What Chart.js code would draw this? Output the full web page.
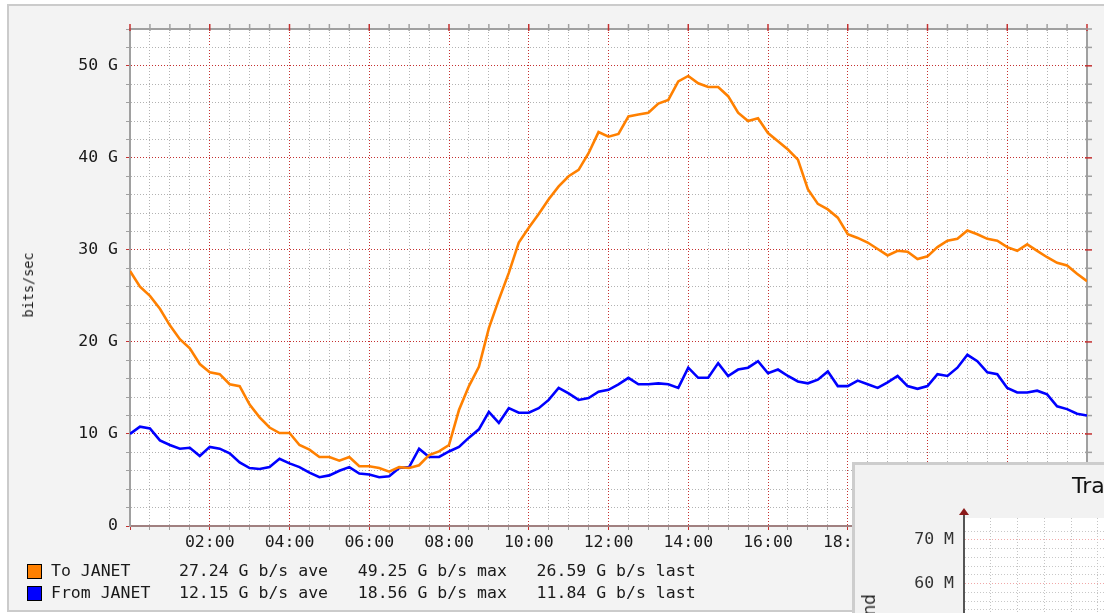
<!DOCTYPE html>
<html>
<head>
<meta charset="utf-8">
<title>JANET traffic</title>
<script src="https://cdn.jsdelivr.net/npm/chart.js@4.4.0/dist/chart.umd.min.js"></script>
<style>
  html, body { margin: 0; padding: 0; overflow: hidden; }
  body { width: 1104px; height: 613px; position: relative; background: #fff;
         font-family: "DejaVu Sans Mono", monospace; color: #1a1a1a; }
  #frame { position: absolute; left: 7px; top: 4px; width: 1200px; height: 608px;
           box-sizing: border-box; border: 2.5px solid #cbcbcb; background: #f3f3f3; }
  #main { position: absolute; left: 0; top: 0; }
  #ytitle { position: absolute; left: 28px; top: 285px; font-size: 13.5px; white-space: nowrap;
            transform: translate(-50%, -50%) rotate(-90deg); }
  .row { position: absolute; left: 0; height: 20px; width: 800px; }
  .swatch { position: absolute; left: 27px; width: 13px; height: 13px; border: 1px solid #000; }
  .name, .stats { position: absolute; font-size: 16.5px; line-height: 20px; white-space: pre; }
  .name { left: 51px; }
  .stats { left: 179px; }
  #win2 { position: absolute; left: 852px; top: 462px; width: 400px; height: 300px; box-sizing: border-box;
          border-left: 3px solid #cdcdcd; border-top: 3px solid #cdcdcd; background: #f2f2f2; }
  #inner { position: absolute; left: 856px; top: 466px; }
  #title2 { position: absolute; left: 1072px; top: 473px; font-family: "DejaVu Sans", sans-serif;
            font-size: 22px; line-height: 26px; white-space: nowrap; color: #111; }
  #ytitle2 { position: absolute; left: 861px; top: 594px; font-family: "DejaVu Sans", sans-serif;
             font-size: 17px; line-height: 17px; white-space: nowrap; color: #222;
             transform-origin: left top; transform: rotate(-90deg) translateX(-100%); }
</style>
</head>
<body>
<div id="frame"></div>
<canvas id="main" width="1104" height="613"></canvas>
<div id="ytitle">bits/sec</div>
<div id="legend"></div>
<div id="win2"></div>
<canvas id="inner" width="440" height="400"></canvas>
<div id="title2">Traffic</div>
<div id="ytitle2">Bits per second</div>
<script>
// samples every 15 minutes from 00:00 to 24:00, in Gbit/s
const SAMPLE_MINUTES = 15;

const toJanet = [
  27.7, 26.0, 25.0, 23.6, 21.8, 20.3, 19.3, 17.6, 16.7, 16.5, 15.4, 15.2,
  13.2, 11.8, 10.7, 10.1, 10.1, 8.8, 8.3, 7.5, 7.5, 7.1, 7.5, 6.5,
  6.5, 6.3, 5.9, 6.4, 6.3, 6.6, 7.7, 8.1, 8.8, 12.6, 15.2, 17.3,
  21.5, 24.6, 27.5, 30.8, 32.4, 33.9, 35.5, 36.9, 38.0, 38.7, 40.5, 42.8,
  42.3, 42.6, 44.5, 44.7, 44.9, 45.9, 46.3, 48.3, 48.9, 48.1, 47.7, 47.7,
  46.7, 44.9, 44.0, 44.3, 42.7, 41.8, 40.9, 39.8, 36.6, 35.0, 34.4, 33.5,
  31.7, 31.3, 30.8, 30.1, 29.4, 29.9, 29.8, 29.0, 29.3, 30.3, 31.0, 31.2,
  32.1, 31.7, 31.2, 31.0, 30.3, 29.9, 30.6, 29.9, 29.2, 28.6, 28.3, 27.4,
  26.6
];

const fromJanet = [
  10.0, 10.8, 10.6, 9.3, 8.8, 8.4, 8.5, 7.6, 8.6, 8.4, 7.9, 6.9,
  6.3, 6.2, 6.4, 7.3, 6.8, 6.4, 5.8, 5.3, 5.5, 6.0, 6.4, 5.7,
  5.6, 5.3, 5.4, 6.3, 6.4, 8.4, 7.5, 7.5, 8.1, 8.6, 9.6, 10.5,
  12.4, 11.2, 12.8, 12.3, 12.3, 12.8, 13.7, 15.0, 14.4, 13.7, 13.9, 14.6,
  14.8, 15.4, 16.1, 15.4, 15.4, 15.5, 15.4, 15.0, 17.2, 16.1, 16.1, 17.7,
  16.3, 17.0, 17.2, 17.9, 16.6, 17.0, 16.3, 15.7, 15.5, 15.9, 16.8, 15.2,
  15.2, 15.8, 15.4, 15.0, 15.6, 16.3, 15.2, 14.9, 15.2, 16.5, 16.3, 17.2,
  18.6, 17.9, 16.7, 16.5, 15.0, 14.5, 14.5, 14.7, 14.3, 13.0, 12.7, 12.2,
  12.0
];

const seriesNames = ["To JANET", "From JANET"];
const seriesColors = ["#ff8000", "#0000ff"];
const seriesStats = [
  "27.24 G b/s ave   49.25 G b/s max   26.59 G b/s last",
  "12.15 G b/s ave   18.56 G b/s max   11.84 G b/s last"
];

const xTickHours = [2, 4, 6, 8, 10, 12, 14, 16, 18, 20, 22];
const xTickLabels = ["02:00", "04:00", "06:00", "08:00", "10:00", "12:00",
                     "14:00", "16:00", "18:00", "20:00", "22:00"];
const yTickValues = [0, 10, 20, 30, 40, 50];
const yTickLabels = ["0", "10 G", "20 G", "30 G", "40 G", "50 G"];

const innerYTickValues = [0, 10, 20, 30, 40, 50, 60, 70];
const innerYTickLabels = ["0", "10 M", "20 M", "30 M", "40 M", "50 M", "60 M", "70 M"];

const MAJOR = "#c43030";
const MINOR = "#b2b2b2";

// legend rows
const legendEl = document.getElementById("legend");
seriesNames.forEach(function (name, i) {
  const top = i === 0 ? 561 : 583;
  legendEl.innerHTML += `
    <div class="row" style="top:${top}px">
      <div class="swatch" style="top:3px;background:${seriesColors[i]}"></div>
      <div class="name">${name}</div>
      <div class="stats">${seriesStats[i]}</div>
    </div>`;
});

function toPoints(values) {
  return values.map(function (v, i) {
    return { x: (i * SAMPLE_MINUTES) / 60, y: v };
  });
}

const plotBg = {
  id: "plotBg",
  beforeDraw(chart) {
    const a = chart.chartArea;
    const c = chart.ctx;
    c.save();
    c.fillStyle = "#fff";
    c.fillRect(a.left, a.top, a.right - a.left, a.bottom - a.top);
    c.restore();
  }
};

const frame = {
  id: "frame",
  beforeDatasetsDraw(chart) {
    const a = chart.chartArea;
    const c = chart.ctx;
    const xs = chart.scales.x;
    const ys = chart.scales.y;
    c.save();
    c.strokeStyle = "#a0a0a0";
    c.lineWidth = 2;
    c.beginPath();
    c.moveTo(a.left, a.top);
    c.lineTo(a.right, a.top);
    c.lineTo(a.right, a.bottom);
    c.stroke();
    c.lineWidth = 1.5;
    xs.ticks.forEach(function (t) {
      const px = xs.getPixelForValue(t.value);
      c.strokeStyle = t.value % 2 === 0 ? MAJOR : "#a0a0a0";
      c.beginPath();
      c.moveTo(px, a.top - 5);
      c.lineTo(px, a.top + 2);
      c.stroke();
    });
    ys.ticks.forEach(function (t) {
      const py = ys.getPixelForValue(t.value);
      c.strokeStyle = t.value % 10 === 0 ? MAJOR : "#a0a0a0";
      c.beginPath();
      c.moveTo(a.right - 2, py);
      c.lineTo(a.right + 5, py);
      c.stroke();
    });
    c.restore();
  }
};

const tickFont = { family: "DejaVu Sans Mono", size: 16.5 };

new Chart(document.getElementById("main"), {
  type: "line",
  data: {
    datasets: [
      { label: seriesNames[0], data: toPoints(toJanet), borderColor: seriesColors[0],
        borderWidth: 2.6, pointRadius: 0, tension: 0 },
      { label: seriesNames[1], data: toPoints(fromJanet), borderColor: seriesColors[1],
        borderWidth: 2.6, pointRadius: 0, tension: 0 }
    ]
  },
  options: {
    responsive: false,
    animation: false,
    layout: { padding: { left: 0, top: 29, right: 17, bottom: 57 } },
    plugins: { legend: { display: false }, tooltip: { enabled: false } },
    scales: {
      x: {
        type: "linear",
        min: 0,
        max: 24,
        afterFit(scale) { scale.height = 30; },
        ticks: {
          stepSize: 0.5,
          autoSkip: false,
          maxRotation: 0,
          padding: 3,
          color: "#1a1a1a",
          font: tickFont,
          callback(value) {
            const i = xTickHours.indexOf(value);
            return i >= 0 ? xTickLabels[i] : "";
          }
        },
        grid: {
          color(ctx) { return ctx.tick && ctx.tick.value % 2 === 0 ? MAJOR : MINOR; },
          tickColor(ctx) { return ctx.tick && ctx.tick.value % 2 === 0 ? MAJOR : "#a0a0a0"; },
          lineWidth: 1,
          tickLength: 4
        },
        border: { color: "#a08080", width: 2, dash: [1, 2] }
      },
      y: {
        min: 0,
        max: 54,
        afterFit(scale) { scale.width = 130; },
        ticks: {
          stepSize: 2,
          autoSkip: false,
          padding: 8,
          color: "#1a1a1a",
          font: tickFont,
          callback(value) {
            const i = yTickValues.indexOf(value);
            return i >= 0 ? yTickLabels[i] : "";
          }
        },
        grid: {
          color(ctx) { return ctx.tick && ctx.tick.value % 10 === 0 ? MAJOR : MINOR; },
          tickColor(ctx) { return ctx.tick && ctx.tick.value % 10 === 0 ? MAJOR : "#a0a0a0"; },
          lineWidth: 1,
          tickLength: 4
        },
        border: { color: "#a0a0a0", width: 2, dash: [1, 2] }
      }
    }
  },
  plugins: [plotBg, frame]
});

// the second window peeking in at the bottom right
const innerAxisArrow = {
  id: "innerAxisArrow",
  afterDraw(chart) {
    const a = chart.chartArea;
    const c = chart.ctx;
    c.save();
    c.strokeStyle = "#555";
    c.lineWidth = 2;
    c.beginPath();
    c.moveTo(a.left, a.top);
    c.lineTo(a.left, a.top - 5);
    c.stroke();
    c.fillStyle = "#8b1a1a";
    c.beginPath();
    c.moveTo(a.left - 5, a.top - 3);
    c.lineTo(a.left + 5, a.top - 3);
    c.lineTo(a.left, a.top - 10);
    c.closePath();
    c.fill();
    c.restore();
  }
};

new Chart(document.getElementById("inner"), {
  type: "line",
  data: { datasets: [] },
  options: {
    responsive: false,
    animation: false,
    layout: { padding: { left: 0, top: 52, right: 11, bottom: 0 } },
    plugins: { legend: { display: false }, tooltip: { enabled: false } },
    scales: {
      x: {
        type: "linear",
        min: 0,
        max: 12,
        afterFit(scale) { scale.height = 0; },
        ticks: { display: false, stepSize: 1 },
        grid: { color: "#c4c4c4", drawTicks: false },
        border: { display: false, dash: [1, 2] }
      },
      y: {
        min: 0,
        max: 75,
        afterFit(scale) { scale.width = 108; },
        afterBuildTicks(scale) {
          scale.ticks = scale.ticks.filter(function (t) { return t.value < 75; });
        },
        ticks: {
          stepSize: 2,
          autoSkip: false,
          padding: 10,
          color: "#333",
          font: tickFont,
          callback(value) {
            const i = innerYTickValues.indexOf(value);
            return i >= 0 ? innerYTickLabels[i] : "";
          }
        },
        grid: {
          color(ctx) { return ctx.tick && ctx.tick.value % 10 === 0 ? "#f0a8a8" : "#c8c8c8"; },
          drawTicks: false
        },
        border: { color: "#555", width: 2, dash: [1, 2] }
      }
    }
  },
  plugins: [plotBg, innerAxisArrow]
});
</script>
</body>
</html>
